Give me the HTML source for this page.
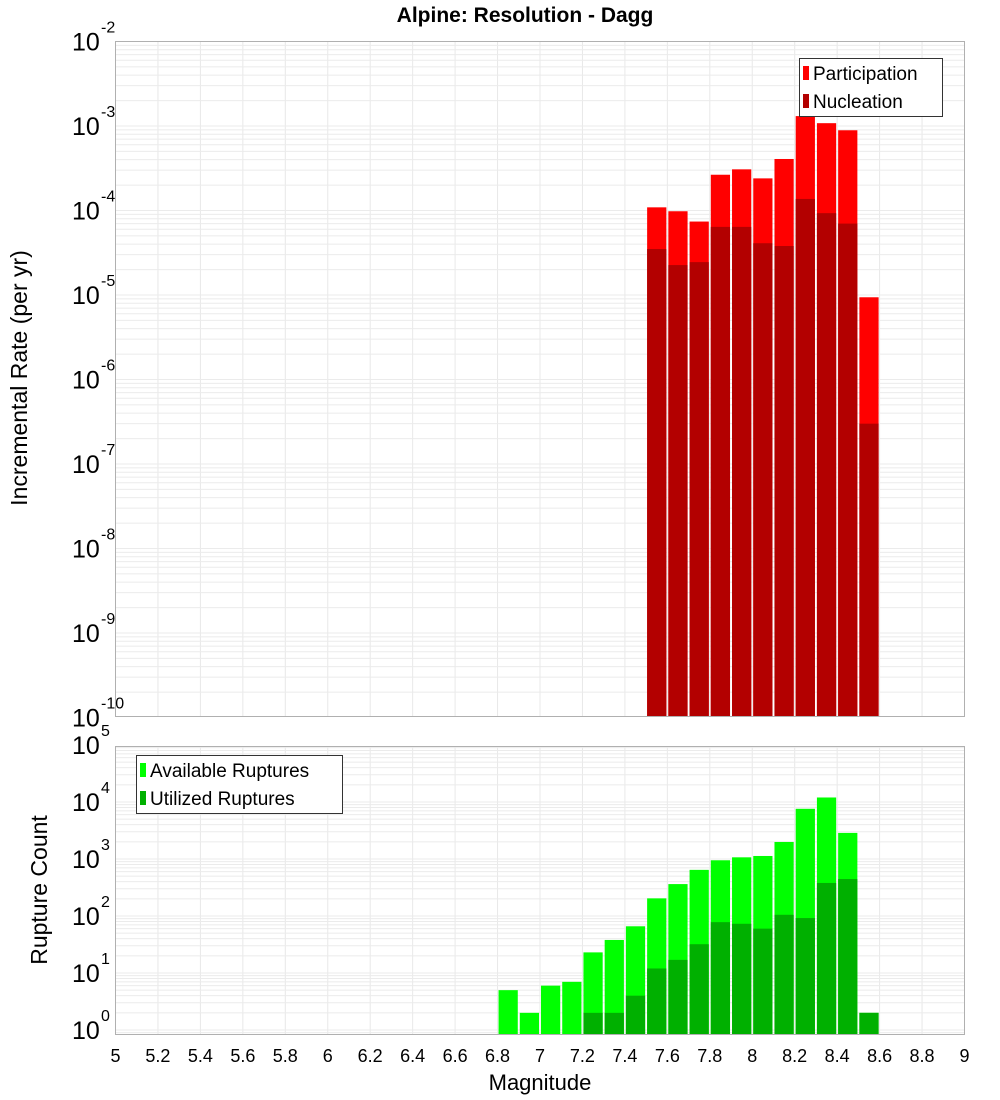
<!DOCTYPE html>
<html><head><meta charset="utf-8"><style>
body{margin:0;background:#fff;}
svg{display:block;font-family:"Liberation Sans","DejaVu Sans",sans-serif;}
</style></head><body>
<svg id="chart" width="1000" height="1100" viewBox="0 0 1000 1100">
<text x="525" y="22" text-anchor="middle" font-size="21" font-weight="bold">Alpine: Resolution - Dagg</text>
<g id="grid"></g>
<g id="bars"></g>
<rect x="115.5" y="41.5" width="849" height="675" fill="none" stroke="#b0b0b0"/>
<rect x="115.5" y="746.5" width="849" height="288" fill="none" stroke="#b0b0b0"/>
<g id="ticks"></g>
<text transform="translate(27,378) rotate(-90)" text-anchor="middle" font-size="23">Incremental Rate (per yr)</text>
<text transform="translate(47,890) rotate(-90)" text-anchor="middle" font-size="23">Rupture Count</text>
<text x="540" y="1090" text-anchor="middle" font-size="22">Magnitude</text>
<g>
<rect x="799.5" y="58.5" width="143" height="58" fill="#fff" stroke="#333"/>
<rect x="803" y="66" width="6" height="14" fill="#ff0000"/>
<text x="813" y="80" font-size="19">Participation</text>
<rect x="803" y="94" width="6" height="14" fill="#b30000"/>
<text x="813" y="108" font-size="19">Nucleation</text>
</g>
<g>
<rect x="136.5" y="755.5" width="206" height="58" fill="#fff" stroke="#333"/>
<rect x="140" y="763" width="6" height="14" fill="#00ff00"/>
<text x="150" y="777" font-size="19">Available Ruptures</text>
<rect x="140" y="791" width="6" height="14" fill="#00b000"/>
<text x="150" y="805" font-size="19">Utilized Ruptures</text>
</g>
</svg>
<script>
const rateMags = [7.5,7.6,7.7,7.8,7.9,8.0,8.1,8.2,8.3,8.4,8.5];
const participation = [1.09e-4,9.8e-5,7.4e-5,2.65e-4,3.07e-4,2.4e-4,4.07e-4,1.31e-3,1.08e-3,8.9e-4,9.4e-6];
const nucleation = [3.5e-5,2.26e-5,2.45e-5,6.4e-5,6.4e-5,4.1e-5,3.8e-5,1.37e-4,9.3e-5,7.0e-5,3.0e-7];
const countMags = [6.8,6.9,7.0,7.1,7.2,7.3,7.4,7.5,7.6,7.7,7.8,7.9,8.0,8.1,8.2,8.3,8.4,8.5];
const available = [5,2,6,7,23,38,66,204,363,645,950,1070,1130,1990,7600,12000,2870,2];
const utilized = [0,0,0,0,2,2,4,12,17,32,78,73,60,105,92,380,445,2];
const xTicks = [5,5.2,5.4,5.6,5.8,6,6.2,6.4,6.6,6.8,7,7.2,7.4,7.6,7.8,8,8.2,8.4,8.6,8.8,9];
const topExps = [-2,-3,-4,-5,-6,-7,-8,-9,-10];
const botExps = [5,4,3,2,1,0];

const NS="http://www.w3.org/2000/svg";
const X0=115.5,X1=964.5;
const xs=m=>X0+(m-5)/4*(X1-X0);
const yTop=v=>41.5+(-2-Math.log10(v))*84.5;
const TOPB=716.5;
const yBot=v=>1030-Math.log10(v)*57;
const BOTB=1034.5;
function mk(tag,attrs,parent){const e=document.createElementNS(NS,tag);for(const k in attrs)e.setAttribute(k,attrs[k]);parent.appendChild(e);return e;}
const grid=document.getElementById('grid'),bars=document.getElementById('bars'),ticks=document.getElementById('ticks');
// grid lines
for(let m=5.2;m<9;m+=0.2){
 for(const [a,b] of [[41.5,716.5],[746.5,1034.5]]){
  const l=mk('line',{x1:xs(m),x2:xs(m),y1:a,y2:b,stroke:'#e8e8e8'},grid);
  
  
 }
}
for(let e=-10;e<-2;e++)for(let k=1;k<10;k++){const y=yTop(k*Math.pow(10,e));if(y<41.5||y>716.5)continue;
 const l=mk('line',{x1:X0,x2:X1,y1:y,y2:y,stroke:'#ebebeb'},grid);
 
 }
for(let e=-1;e<5;e++)for(let k=1;k<10;k++){const y=yBot(k*Math.pow(10,e));if(y<746.5||y>1034.5)continue;
 const l=mk('line',{x1:X0,x2:X1,y1:y,y2:y,stroke:'#ebebeb'},grid);
 
 }
// bars
const bw=(X1-X0)/40;
function bar(m,y,bottom,color,name){const r=mk('rect',{x:xs(m)+1,y:y,width:bw-2,height:Math.max(0,bottom-y),fill:color},bars);
 
 }
rateMags.forEach((m,i)=>{bar(m,yTop(participation[i]),TOPB,'#ff0000','participation-bar');bar(m,yTop(nucleation[i]),TOPB,'#b30000','nucleation-bar');});
countMags.forEach((m,i)=>{bar(m,yBot(available[i]),BOTB,'#00ff00','available-bar');if(utilized[i]>0)bar(m,yBot(utilized[i]),BOTB,'#00b000','utilized-bar');});
// ticks
xTicks.forEach(t=>{const tx=mk('text',{x:xs(t),y:1062,'text-anchor':'middle','font-size':18},ticks);tx.textContent=String(t);
 
 });
function ylab(y,e){const tx=mk('text',{x:72,y:y+9,'font-size':25},ticks);tx.textContent='10';
 
 
 const s=mk('text',{x:101,y:y-9,'font-size':16},ticks);s.textContent=String(e);
 
 }
topExps.forEach(e=>ylab(yTop(Math.pow(10,e)),e));
botExps.forEach(e=>ylab(yBot(Math.pow(10,e)),e));
</script>
</body></html>
